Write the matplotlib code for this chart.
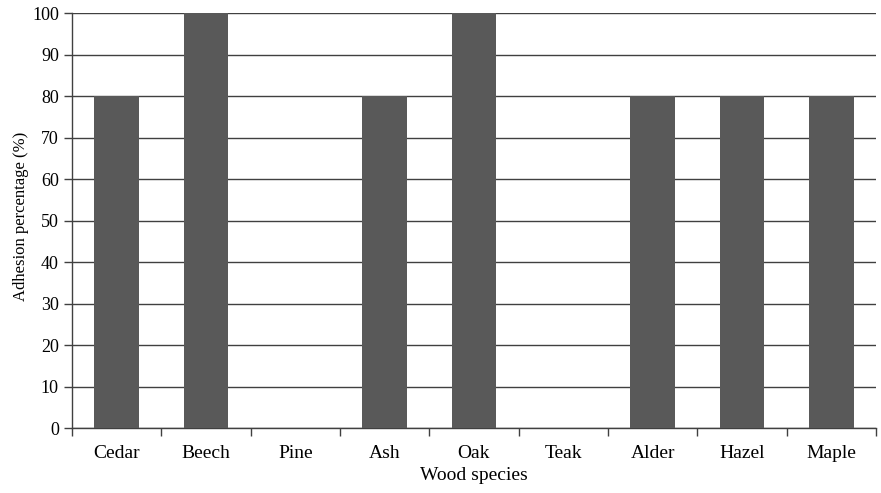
import matplotlib
matplotlib.use("Agg")
from matplotlib import pyplot as plt
import numpy as np

species = ["Cedar", "Beech", "Pine", "Ash", "Oak", "Teak", "Alder", "Hazel", "Maple"]
adhesion = [80, 100, 0, 80, 100, 0, 80, 80, 80]

plt.rcParams['font.family'] = ['Liberation Serif', 'DejaVu Serif']

fig = plt.figure(figsize=(8.81, 4.93), dpi=100)
ax = fig.add_axes([0.0817, 0.1318, 0.9126, 0.8418])

x = np.arange(len(species))
ax.bar(x, adhesion, width=0.5, color='#595959', zorder=3)

ax.set_ylim(0, 100)
ax.set_xlim(-0.5, len(species) - 0.5)
ax.set_yticks(range(0, 101, 10))
ax.yaxis.grid(True, color='#404040', linewidth=1.0, zorder=1)
ax.set_axisbelow(True)

ax.set_xticks(x)
ax.set_xticklabels(species, fontsize=14)
ax.set_xticks(np.arange(-0.5, len(species), 1.0), minor=True)
ax.tick_params(axis='x', which='major', length=0, pad=12)
ax.tick_params(axis='x', which='minor', length=6, width=1, color='#404040', direction='out')
ax.tick_params(axis='y', length=6, width=1, color='#404040', labelsize=13)

for s in ['top', 'right']:
    ax.spines[s].set_visible(False)
for s in ['left', 'bottom']:
    ax.spines[s].set_color('#404040')
    ax.spines[s].set_linewidth(1.0)

ax.set_xlabel('Wood species', fontsize=14, labelpad=4)
ax.set_ylabel('Adhesion percentage (%)', fontsize=12)
ax.yaxis.set_label_coords(-0.054, 0.51)

fig.savefig('out.png', dpi=100)
